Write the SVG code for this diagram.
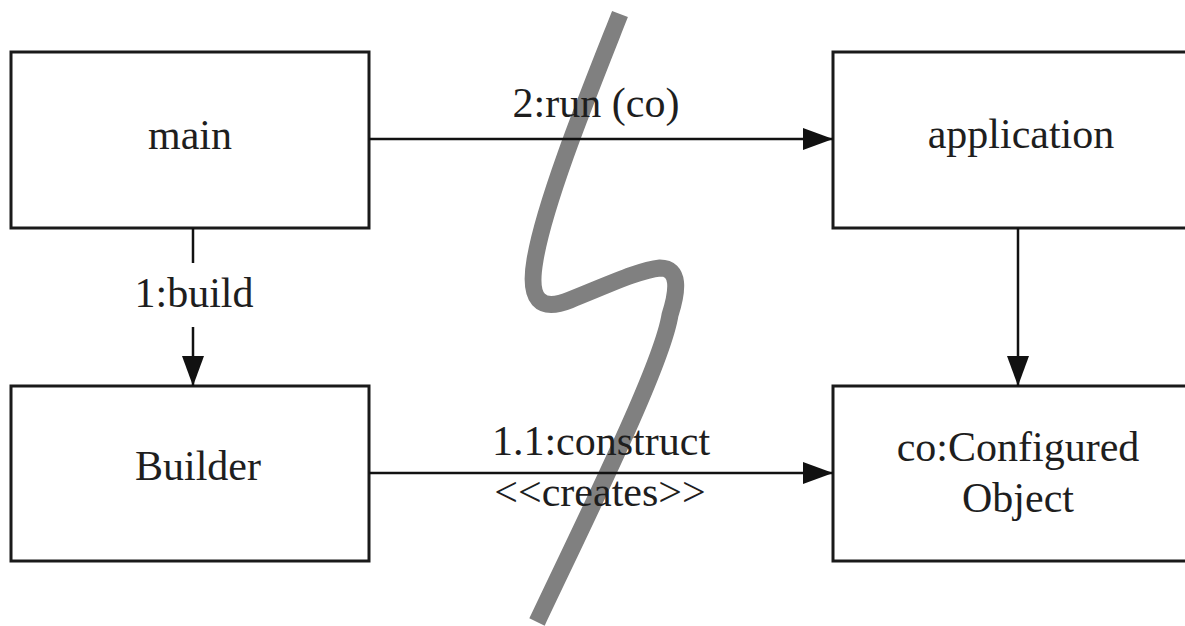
<svg xmlns="http://www.w3.org/2000/svg" width="1185" height="626" viewBox="0 0 1185 626">
<style>
.box{fill:#fff;stroke:#1a1a1a;stroke-width:3}
.lbl{font-family:"Liberation Serif","Times New Roman",serif;font-size:42px;fill:#1e1e1e;text-anchor:middle}
.conn{fill:none;stroke:#111;stroke-width:2.5}
.cut{fill:none;stroke:#808080;stroke-width:17;stroke-linecap:butt;stroke-linejoin:round}
</style>
<defs>
<marker id="arr" markerUnits="userSpaceOnUse" markerWidth="30" markerHeight="22" refX="30" refY="11" orient="auto">
<path d="M0,0 L30,11 L0,22 Z" fill="#111"/>
</marker>
</defs>
<rect width="1185" height="626" fill="#fff"/>
<path class="cut" d="M620 14 C 590 90, 545 200, 535 260 C 528 300, 540 312, 570 300 C 610 284, 640 270, 660 268 C 680 268, 678 290, 670 315 C 662 365, 590 510, 537 622"/>
<g id="main"><rect class="box" x="11" y="52" width="358" height="176"/><text class="lbl" x="190" y="149">main</text></g>
<g id="application"><rect class="box" x="833" y="52" width="385" height="176"/><text class="lbl" x="1021" y="148">application</text></g>
<g id="builder"><rect class="box" x="11" y="386" width="358" height="175"/><text class="lbl" x="198" y="480">Builder</text></g>
<g id="configured-object"><rect class="box" x="833" y="386" width="385" height="175"/><text class="lbl" x="1018" y="461">co:Configured</text><text class="lbl" x="1018" y="512">Object</text></g>
<g id="connectors">
<path class="conn" d="M369 139 H833" marker-end="url(#arr)"/>
<text class="lbl" x="596" y="117">2:run (co)</text>
<path class="conn" d="M193 228 V263"/>
<path class="conn" d="M193 327 V386" marker-end="url(#arr)"/>
<text class="lbl" x="194" y="307">1:build</text>
<path class="conn" d="M1018 228 V386" marker-end="url(#arr)"/>
<path class="conn" d="M369 473 H833" marker-end="url(#arr)"/>
<text class="lbl" x="601" y="455">1.1:construct</text>
<text class="lbl" x="600" y="506">&lt;&lt;creates&gt;&gt;</text>
</g>
</svg>
